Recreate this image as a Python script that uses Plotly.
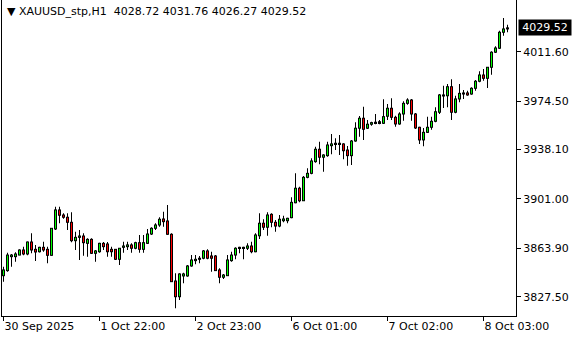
import plotly.graph_objects as go

symbol = "XAUUSD_stp,H1"

opens = [3843.3, 3847.1, 3857.6, 3857.6, 3858.8, 3862.6, 3859.6, 3868.6, 3863.1, 3861.3,
         3864.6, 3863.1, 3858.6, 3878.4, 3892.7, 3888.9, 3887.2, 3883.4, 3869.6, 3872.1,
         3873.1, 3867.6, 3870.6, 3860.1, 3861.3, 3867.6, 3867.1, 3863.1, 3863.1, 3855.6,
         3864.6, 3865.1, 3866.4, 3863.9, 3868.1, 3863.1, 3867.6, 3874.6, 3878.9, 3881.4,
         3885.9, 3884.4, 3874.4, 3839.3, 3827.5, 3843.1, 3843.1, 3850.6, 3854.6, 3855.6,
         3856.4, 3861.9, 3858.1, 3858.1, 3847.6, 3842.1, 3843.3, 3854.6, 3858.8, 3863.9,
         3864.6, 3863.9, 3865.6, 3861.3, 3873.3, 3882.7, 3879.7, 3889.4, 3883.4, 3880.6,
         3884.6, 3884.6, 3886.9, 3898.1, 3909.0, 3899.6, 3917.2, 3920.2, 3929.0, 3938.3,
         3932.3, 3933.5, 3941.0, 3942.3, 3942.8, 3942.3, 3937.7, 3933.5, 3944.5, 3954.1,
         3961.6, 3954.1, 3957.1, 3958.3, 3958.3, 3957.8, 3963.1, 3969.1, 3962.3, 3957.3,
         3964.8, 3972.8, 3975.3, 3964.8, 3954.8, 3945.3, 3951.0, 3954.8, 3959.3, 3966.1,
         3979.1, 3978.5, 3985.3, 3966.1, 3976.1, 3979.8, 3980.6, 3979.8, 3984.1, 3989.4,
         3994.1, 3991.6, 3999.9, 4011.2, 4014.2, 4026.2, 4028.72]

highs = [3850.1, 3860.6, 3859.6, 3860.9, 3863.1, 3865.1, 3869.0, 3875.2, 3866.4, 3865.1,
         3868.8, 3865.1, 3879.2, 3895.1, 3895.1, 3890.2, 3890.2, 3890.9, 3876.4, 3877.6,
         3875.2, 3871.4, 3871.4, 3862.6, 3868.1, 3868.6, 3868.6, 3865.1, 3863.4, 3864.1,
         3868.8, 3868.8, 3867.6, 3868.8, 3873.9, 3873.9, 3878.4, 3879.7, 3882.7, 3887.2,
         3891.4, 3896.4, 3875.2, 3845.1, 3845.1, 3845.5, 3851.3, 3858.8, 3858.8, 3858.1,
         3862.6, 3863.1, 3861.3, 3858.8, 3848.9, 3844.6, 3858.8, 3861.3, 3864.6, 3865.1,
         3865.1, 3867.6, 3868.8, 3875.2, 3890.2, 3885.7, 3890.9, 3890.2, 3885.1, 3888.9,
         3888.4, 3886.9, 3902.2, 3920.2, 3910.2, 3918.2, 3924.0, 3931.5, 3940.2, 3944.0,
         3934.5, 3944.0, 3949.8, 3946.5, 3949.0, 3942.8, 3940.8, 3945.3, 3958.6, 3963.3,
         3970.3, 3960.3, 3959.0, 3964.8, 3960.3, 3975.8, 3972.3, 3976.6, 3963.5, 3966.1,
         3974.3, 3976.6, 3976.1, 3965.5, 3955.3, 3954.3, 3962.8, 3962.8, 3969.8, 3979.8,
         3986.1, 3987.3, 3990.9, 3978.5, 3987.3, 3982.8, 3982.3, 3984.9, 3990.3, 3996.9,
         3998.6, 4000.1, 4011.9, 4015.7, 4027.4, 4036.9, 4031.76]

lows = [3838.8, 3846.3, 3850.1, 3853.8, 3858.6, 3858.6, 3858.6, 3860.1, 3854.3, 3860.8,
        3861.3, 3852.6, 3858.2, 3877.6, 3882.7, 3886.1, 3877.6, 3868.4, 3862.6, 3855.1,
        3858.3, 3857.6, 3859.6, 3853.8, 3860.6, 3862.6, 3857.6, 3857.6, 3855.1, 3851.3,
        3860.6, 3862.6, 3860.6, 3863.1, 3860.6, 3860.6, 3867.1, 3873.9, 3877.6, 3880.1,
        3880.1, 3874.0, 3838.5, 3818.8, 3825.0, 3837.6, 3842.5, 3850.1, 3851.9, 3852.6,
        3855.6, 3855.6, 3846.3, 3846.8, 3837.6, 3840.8, 3843.1, 3853.8, 3855.6, 3860.1,
        3855.6, 3862.6, 3860.1, 3860.9, 3870.9, 3877.6, 3873.3, 3879.7, 3876.4, 3879.7,
        3883.4, 3882.7, 3886.4, 3897.7, 3898.4, 3899.4, 3916.5, 3919.5, 3928.2, 3927.0,
        3921.4, 3932.7, 3934.5, 3937.7, 3934.0, 3930.8, 3925.9, 3926.5, 3944.0, 3947.7,
        3945.3, 3953.5, 3956.0, 3957.1, 3957.1, 3957.3, 3960.3, 3960.3, 3955.3, 3956.8,
        3959.8, 3971.8, 3959.8, 3953.5, 3942.3, 3940.5, 3950.5, 3953.0, 3958.6, 3964.8,
        3969.3, 3969.8, 3960.3, 3965.3, 3973.6, 3976.1, 3978.5, 3979.3, 3982.3, 3988.6,
        3989.8, 3984.3, 3994.3, 4010.6, 4013.6, 4023.6, 4026.27]

closes = [3847.6, 3858.8, 3858.8, 3859.6, 3862.6, 3859.6, 3868.6, 3862.6, 3861.1, 3864.6,
          3862.6, 3858.6, 3878.9, 3892.7, 3888.7, 3887.2, 3883.4, 3869.6, 3872.1, 3873.1,
          3868.1, 3870.6, 3860.1, 3861.9, 3867.6, 3865.1, 3861.3, 3861.3, 3855.6, 3863.9,
          3865.6, 3866.4, 3863.9, 3868.1, 3863.1, 3868.1, 3874.6, 3878.9, 3881.4, 3885.7,
          3883.9, 3874.4, 3838.8, 3827.5, 3844.6, 3844.6, 3850.6, 3855.1, 3855.6, 3856.4,
          3861.9, 3856.4, 3856.4, 3847.1, 3842.1, 3843.8, 3855.1, 3858.8, 3863.9, 3864.6,
          3863.9, 3865.6, 3861.3, 3873.9, 3882.7, 3879.7, 3888.9, 3883.4, 3880.6, 3885.7,
          3885.9, 3886.4, 3898.4, 3909.0, 3899.6, 3917.2, 3920.2, 3929.5, 3938.3, 3932.3,
          3934.0, 3941.5, 3942.3, 3942.8, 3942.3, 3937.2, 3933.5, 3944.5, 3954.1, 3961.6,
          3953.3, 3957.1, 3958.3, 3958.6, 3959.0, 3962.8, 3969.1, 3962.3, 3957.3, 3964.8,
          3972.8, 3975.3, 3964.8, 3954.3, 3945.3, 3951.0, 3954.8, 3959.3, 3966.5, 3979.1,
          3978.3, 3985.3, 3966.1, 3976.1, 3980.3, 3980.6, 3979.1, 3984.1, 3989.4, 3994.1,
          3991.6, 3999.9, 4011.2, 4014.4, 4026.2, 4028.7, 4029.52]

tick_bars = [0, 24, 48, 72, 96, 120]
tick_labels = ["30 Sep 2025", "1 Oct 22:00", "2 Oct 23:00", "6 Oct 01:00", "7 Oct 02:00", "8 Oct 03:00"]

price_ticks = [3827.5, 3863.9, 3901.0, 3938.1, 3974.5, 4011.6]

# ---- styling / layout constants ----
up_color = "#00ff00"
down_color = "#ff0000"
W, H = 580, 340
M_L, M_R, M_T, M_B = 2, 64, 0, 24
x_range = [-0.375, 128.125]
y_range = [3813.0, 4050.45]
plot_h = H - M_T - M_B
px = (y_range[1] - y_range[0]) / plot_h  # price units per screen pixel

n = len(opens)
bar_index = list(range(n))

body_lo = [min(o, c) for o, c in zip(opens, closes)]
body_hi = [max(o, c) for o, c in zip(opens, closes)]
wick_len = [h - l for h, l in zip(highs, lows)]
outer_base = [lo - px / 2 for lo in body_lo]
outer_len = [hi - lo + px for lo, hi in zip(body_lo, body_hi)]

# coloured cores drawn as 1px lines in the scatter layer (always above bars)
up_x, up_y, dn_x, dn_y = [], [], [], []
for i in range(n):
    lo, hi = body_lo[i], body_hi[i]
    if hi - lo <= px:
        continue
    if closes[i] >= opens[i]:
        up_x += [i, i, None]
        up_y += [lo + px / 2, hi - px / 2, None]
    else:
        dn_x += [i, i, None]
        dn_y += [lo + px / 2, hi - px / 2, None]

fig = go.Figure()
# wicks (1px black bars low -> high)
fig.add_trace(go.Bar(
    x=bar_index, y=wick_len, base=lows, width=0.25,
    marker=dict(color="black", line=dict(width=0)),
    hoverinfo="skip", showlegend=False,
))
# body outline (3px black block)
fig.add_trace(go.Bar(
    x=bar_index, y=outer_len, base=outer_base, width=0.75,
    marker=dict(color="black", line=dict(width=0)),
    hoverinfo="skip", showlegend=False,
))
# coloured body cores
fig.add_trace(go.Scatter(
    x=up_x, y=up_y, mode="lines", line=dict(color=up_color, width=1),
    hoverinfo="skip", showlegend=False, connectgaps=False,
))
fig.add_trace(go.Scatter(
    x=dn_x, y=dn_y, mode="lines", line=dict(color=down_color, width=1),
    hoverinfo="skip", showlegend=False, connectgaps=False,
))

font = dict(family="DejaVu Sans", size=11, color="black")

fig.update_layout(
    width=W, height=H,
    margin=dict(l=M_L, r=M_R, t=M_T, b=M_B),
    paper_bgcolor="white", plot_bgcolor="white",
    barmode="overlay",
    showlegend=False,
    font=font,
    xaxis=dict(
        range=x_range,
        showgrid=False, zeroline=False,
        showline=True, linecolor="black", linewidth=1, mirror=True,
        tickmode="array", tickvals=tick_bars, ticktext=tick_labels,
        ticks="outside", ticklen=4, tickcolor="black", tickwidth=1,
        ticklabelposition="outside right",
        tickfont=font,
        fixedrange=True,
    ),
    yaxis=dict(
        range=y_range,
        side="right",
        showgrid=False, zeroline=False,
        showline=True, linecolor="black", linewidth=1, mirror=True,
        tickmode="array", tickvals=price_ticks,
        ticktext=[f"{v:.2f}" for v in price_ticks],
        ticks="outside", ticklen=4, tickcolor="black", tickwidth=1,
        tickfont=font,
        fixedrange=True,
    ),
)

header = "▼ {}  {:.2f} {:.2f} {:.2f} {:.2f}".format(symbol, opens[-1], highs[-1], lows[-1], closes[-1])
fig.add_annotation(
    text=header, xref="paper", yref="paper", x=0, y=1,
    xanchor="left", yanchor="top", xshift=3, yshift=-3,
    showarrow=False, font=font,
)

fig.add_annotation(
    text=f"{closes[-1]:.2f}", xref="paper", yref="y", x=1, y=closes[-1],
    xanchor="left", yanchor="middle", xshift=2,
    showarrow=False, bgcolor="black", borderpad=1, width=50,
    font=dict(family="DejaVu Sans", size=11, color="white"),
)

fig.write_html("out.html")
